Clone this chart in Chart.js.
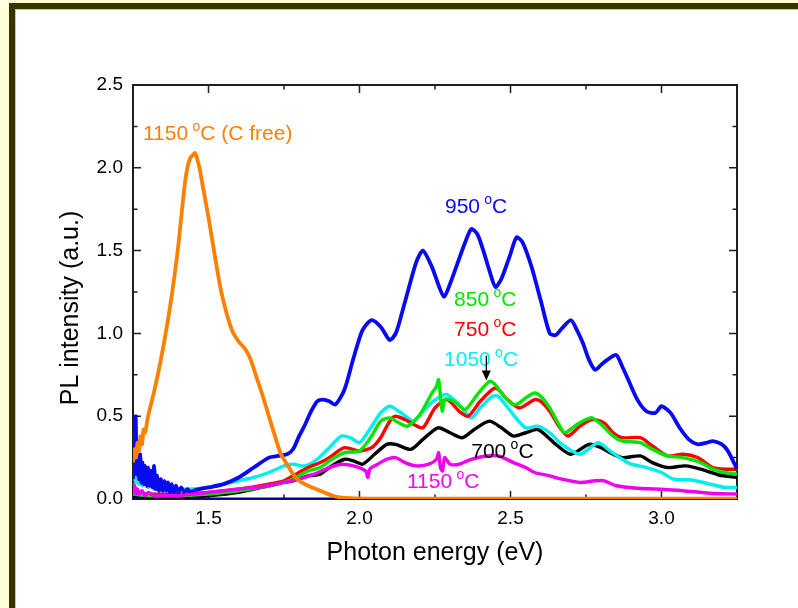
<!DOCTYPE html>
<html>
<head>
<meta charset="utf-8">
<script src="https://cdn.jsdelivr.net/npm/chart.js@4.4.1/dist/chart.umd.min.js"></script>
<style>
  html, body { margin: 0; padding: 0; }
  body { width: 798px; height: 608px; background: #ffffdc; position: relative; overflow: hidden; }
  .frame { position: absolute; left: 9px; top: 3px; width: 800px; height: 603px;
           background: #fff; border-left: 6px solid #383400; border-top: 6px solid #383400;
           border-bottom: 2px solid #cdccc2; }
  .frame::before { content: ""; position: absolute; left: 0; top: 0; right: 0; bottom: 0;
           border-left: 1px solid #c9c6a6; border-top: 1px solid #c9c6a6; }
  canvas { position: absolute; left: 0; top: 0; }
</style>
</head>
<body>
<div class="frame"></div>
<canvas id="pl" width="798" height="608"></canvas>
<script>
// PL spectra of samples annealed at different temperatures

// 950 °C
const e950 = [
  1.250,1.253,1.256,1.259,1.262,1.266,1.270,1.274,1.278,1.282,
  1.286,1.290,1.295,1.300,1.305,1.310,1.315,1.320,1.325,1.330,
  1.336,1.342,1.348,1.354,1.360,1.366,1.372,1.378,1.385,1.392,
  1.400,1.410,1.420,1.430,1.440,1.450,1.470,1.500,1.550,1.600,
  1.650,1.700,1.730,1.760,1.780,1.800,1.820,1.840,1.860,1.880,
  1.900,1.920,1.950,1.980,2.010,2.040,2.070,2.100,2.120,2.140,
  2.170,2.190,2.210,2.240,2.260,2.280,2.300,2.320,2.350,2.370,
  2.390,2.410,2.430,2.450,2.470,2.500,2.520,2.540,2.570,2.600,
  2.630,2.650,2.670,2.700,2.720,2.740,2.760,2.780,2.800,2.820,
  2.850,2.870,2.890,2.920,2.950,2.980,3.000,3.030,3.060,3.090,
  3.120,3.150,3.170,3.200,3.220,3.250
];
const pl950 = [
  0.12,0.40,0.18,0.50,0.15,0.25,0.12,0.27,0.10,0.22,
  0.09,0.20,0.08,0.19,0.08,0.17,0.07,0.20,0.06,0.14,
  0.05,0.12,0.05,0.11,0.05,0.10,0.04,0.09,0.04,0.08,
  0.04,0.07,0.04,0.06,0.04,0.05,0.06,0.07,0.09,0.13,
  0.19,0.25,0.26,0.27,0.30,0.38,0.45,0.53,0.59,0.60,
  0.59,0.57,0.66,0.85,1.02,1.08,1.04,0.96,1.00,1.12,
  1.32,1.44,1.50,1.40,1.30,1.22,1.30,1.40,1.55,1.63,
  1.60,1.50,1.38,1.28,1.33,1.48,1.58,1.55,1.40,1.20,
  1.00,0.99,1.03,1.08,1.02,0.94,0.84,0.78,0.81,0.84,
  0.87,0.80,0.72,0.60,0.53,0.52,0.56,0.52,0.43,0.36,
  0.33,0.34,0.35,0.33,0.29,0.18
];

// 850 °C
const e850 = [
  1.25,1.30,1.40,1.50,1.60,1.70,1.75,1.78,1.83,1.87,
  1.90,1.95,2.00,2.04,2.07,2.10,2.13,2.16,2.20,2.24,
  2.255,2.262,2.268,2.274,2.282,2.30,2.32,2.35,2.39,2.43,
  2.45,2.47,2.50,2.52,2.55,2.58,2.60,2.63,2.66,2.68,
  2.72,2.75,2.77,2.80,2.84,2.87,2.93,2.97,3.02,3.07,
  3.13,3.17,3.21,3.25
];
const pl850 = [
  0.03,0.02,0.02,0.03,0.05,0.08,0.10,0.12,0.17,0.19,
  0.23,0.28,0.29,0.38,0.47,0.49,0.46,0.44,0.51,0.64,
  0.68,0.72,0.62,0.53,0.60,0.60,0.58,0.54,0.63,0.71,
  0.69,0.64,0.58,0.57,0.61,0.64,0.62,0.55,0.45,0.40,
  0.45,0.48,0.49,0.45,0.38,0.35,0.34,0.30,0.26,0.25,
  0.22,0.18,0.16,0.15
];

// 750 °C
const e750 = [
  1.25,1.30,1.40,1.50,1.60,1.70,1.75,1.78,1.83,1.87,
  1.90,1.95,2.00,2.04,2.07,2.10,2.12,2.15,2.18,2.21,
  2.25,2.29,2.33,2.36,2.40,2.45,2.49,2.53,2.58,2.60,
  2.63,2.66,2.69,2.73,2.77,2.81,2.84,2.87,2.93,2.97,
  3.02,3.07,3.12,3.17,3.21,3.25
];
const pl750 = [
  0.04,0.03,0.03,0.04,0.06,0.09,0.11,0.14,0.19,0.22,
  0.25,0.31,0.29,0.31,0.37,0.47,0.50,0.48,0.45,0.43,
  0.55,0.60,0.53,0.50,0.59,0.67,0.60,0.55,0.60,0.59,
  0.53,0.44,0.38,0.44,0.48,0.46,0.40,0.37,0.37,0.32,
  0.26,0.27,0.25,0.19,0.18,0.18
];

// 1050 °C
const e1050 = [
  1.250,1.253,1.256,1.260,1.265,1.270,1.275,1.280,1.290,1.300,
  1.310,1.320,1.330,1.340,1.360,1.400,1.450,1.500,1.550,1.600,
  1.650,1.700,1.750,1.780,1.820,1.860,1.900,1.940,1.970,2.000,
  2.030,2.070,2.100,2.130,2.160,2.180,2.220,2.260,2.290,2.330,
  2.370,2.400,2.440,2.460,2.500,2.550,2.590,2.630,2.670,2.730,
  2.790,2.830,2.870,2.900,2.950,3.000,3.040,3.100,3.160,3.210,
  3.250
];
const pl1050 = [
  0.25,0.12,0.22,0.10,0.18,0.09,0.15,0.08,0.13,0.07,
  0.11,0.06,0.09,0.06,0.07,0.06,0.06,0.07,0.09,0.11,
  0.13,0.16,0.20,0.21,0.20,0.24,0.31,0.38,0.37,0.34,
  0.41,0.52,0.56,0.53,0.49,0.47,0.55,0.61,0.63,0.57,
  0.49,0.55,0.62,0.62,0.53,0.43,0.44,0.40,0.33,0.27,
  0.34,0.29,0.24,0.21,0.19,0.16,0.12,0.115,0.09,0.07,
  0.07
];

// 700 °C
const e700 = [
  1.25,1.30,1.40,1.50,1.60,1.70,1.75,1.78,1.83,1.87,
  1.90,1.95,1.98,2.01,2.05,2.09,2.12,2.17,2.21,2.26,
  2.30,2.34,2.38,2.43,2.47,2.51,2.55,2.59,2.62,2.65,
  2.70,2.76,2.80,2.83,2.87,2.93,2.97,3.02,3.08,3.14,
  3.19,3.25
];
const pl700 = [
  0.02,0.01,0.01,0.02,0.04,0.08,0.10,0.11,0.14,0.15,
  0.19,0.24,0.23,0.21,0.27,0.33,0.33,0.30,0.36,0.43,
  0.40,0.37,0.42,0.47,0.43,0.38,0.40,0.42,0.38,0.33,
  0.27,0.33,0.31,0.28,0.25,0.26,0.22,0.19,0.20,0.175,
  0.145,0.13
];

// 1150 °C
const e1150 = [
  1.250,1.253,1.256,1.260,1.265,1.270,1.280,1.290,1.300,1.320,
  1.350,1.400,1.500,1.600,1.700,1.750,1.800,1.850,1.900,1.940,
  1.980,2.020,2.028,2.034,2.060,2.090,2.120,2.150,2.190,2.230,
  2.255,2.262,2.268,2.275,2.282,2.300,2.330,2.370,2.420,2.460,
  2.510,2.550,2.580,2.630,2.670,2.730,2.780,2.810,2.850,2.920,
  2.980,3.070,3.160,3.250
];
const pl1150 = [
  0.10,0.04,0.08,0.03,0.06,0.03,0.05,0.02,0.04,0.02,
  0.02,0.02,0.04,0.06,0.08,0.10,0.12,0.15,0.19,0.21,
  0.20,0.17,0.13,0.18,0.21,0.24,0.25,0.22,0.20,0.21,
  0.24,0.28,0.19,0.17,0.25,0.21,0.21,0.24,0.26,0.26,
  0.22,0.19,0.16,0.14,0.12,0.10,0.11,0.11,0.08,0.065,
  0.06,0.05,0.035,0.03
];

// 1150 °C, carbon-free sample
const eCfree = [
  1.25,1.255,1.26,1.265,1.27,1.275,1.28,1.285,1.29,1.30,
  1.32,1.34,1.36,1.38,1.40,1.42,1.43,1.44,1.45,1.455,
  1.46,1.47,1.48,1.50,1.52,1.54,1.56,1.58,1.60,1.62,
  1.63,1.64,1.66,1.68,1.70,1.72,1.74,1.76,1.78,1.80,
  1.83,1.87,1.92,1.97,2.05,2.5,3.0,3.25
];
const plCfree = [
  0.22,0.30,0.25,0.34,0.29,0.38,0.33,0.42,0.40,0.50,
  0.65,0.82,1.02,1.25,1.53,1.88,2.00,2.06,2.08,2.09,
  2.07,2.00,1.90,1.70,1.48,1.27,1.12,1.01,0.95,0.91,
  0.88,0.84,0.73,0.62,0.50,0.38,0.27,0.21,0.15,0.11,
  0.08,0.05,0.015,0.005,0.002,0.002,0.002,0.002
];

// detector baseline
const eBase = [1.25, 3.25];
const plBase = [0, 0];

const xTickLabels = ['1.5', '2.0', '2.5', '3.0'];
const yTickLabels = ['0.0', '0.5', '1.0', '1.5', '2.0', '2.5'];
const yTitle = 'PL intensity (a.u.)';

const FONT = "'Liberation Sans', Arial, sans-serif";

const pts = (es, vs) => es.map((e, k) => ({ x: e, y: vs[k] }));
const series = (data, color, width) => ({
  data, borderColor: color, borderWidth: width, pointRadius: 0, tension: 0.25, fill: false
});

// curve annotations: temperature text, colour, anchor (energy, intensity of text baseline)
const tempLabels = [
  { lead: '1150 ', tail: 'C (C free)', color: '#ff8000', e: 1.283, v: 2.167 },
  { lead: '950 ',  tail: 'C', color: '#0a0af0', e: 2.283, v: 1.725 },
  { lead: '850 ',  tail: 'C', color: '#00e600', e: 2.313, v: 1.168 },
  { lead: '750 ',  tail: 'C', color: '#ff0000', e: 2.313, v: 0.987 },
  { lead: '1050 ', tail: 'C', color: '#00eeee', e: 2.280, v: 0.805 },
  { lead: '700 ',  tail: 'C', color: '#000000', e: 2.370, v: 0.248 },
  { lead: '1150 ', tail: 'C', color: '#ff00ff', e: 2.157, v: 0.067 }
];
const arrowMark = { e: 2.42, from: 0.865, to: 0.715 };

const frameTicks = {
  id: 'frameTicks',
  beforeDatasetsDraw(chart) {
    const { ctx, chartArea: a, scales: { x, y } } = chart;
    ctx.save();
    ctx.strokeStyle = '#1e1e1e';
    ctx.lineWidth = 2;
    ctx.strokeRect(a.left, a.top, a.right - a.left, a.bottom - a.top);
    ctx.lineWidth = 1.5;
    ctx.beginPath();
    x.ticks.forEach(t => {
      const p = x.getPixelForValue(t.value);
      const len = t.label ? 8 : 4.5;
      ctx.moveTo(p, a.bottom); ctx.lineTo(p, a.bottom - len);
      ctx.moveTo(p, a.top); ctx.lineTo(p, a.top + len);
    });
    y.ticks.forEach(t => {
      const p = y.getPixelForValue(t.value);
      const len = t.label ? 8 : 4.5;
      ctx.moveTo(a.left, p); ctx.lineTo(a.left + len, p);
      ctx.moveTo(a.right, p); ctx.lineTo(a.right - len, p);
    });
    ctx.stroke();
    // vertical axis title, sitting a little below the axis middle
    ctx.fillStyle = '#000';
    ctx.font = '25px ' + FONT;
    ctx.textAlign = 'center';
    ctx.textBaseline = 'middle';
    ctx.translate(71.5, (a.top + a.bottom) / 2 + 16);
    ctx.rotate(-Math.PI / 2);
    ctx.fillText(yTitle, 0, 0);
    ctx.restore();
  }
};

const annotations = {
  id: 'annotations',
  afterDatasetsDraw(chart) {
    const { ctx, scales: { x, y } } = chart;
    ctx.save();
    ctx.textBaseline = 'alphabetic';
    ctx.textAlign = 'left';
    tempLabels.forEach(l => {
      const px = x.getPixelForValue(l.e);
      const py = y.getPixelForValue(l.v);
      ctx.fillStyle = l.color;
      ctx.font = '21px ' + FONT;
      ctx.fillText(l.lead, px, py);
      const w1 = ctx.measureText(l.lead).width;
      ctx.font = '14px ' + FONT;
      ctx.fillText('o', px + w1 - 1.5, py - 9);
      const w2 = ctx.measureText('o').width;
      ctx.font = '21px ' + FONT;
      ctx.fillText(l.tail, px + w1 - 1.5 + w2, py);
    });
    // arrow pointing at the 850 °C maximum
    const ax = x.getPixelForValue(arrowMark.e);
    const y0 = y.getPixelForValue(arrowMark.from);
    const y1 = y.getPixelForValue(arrowMark.to);
    ctx.strokeStyle = '#000';
    ctx.fillStyle = '#000';
    ctx.lineWidth = 1.3;
    ctx.beginPath();
    ctx.moveTo(ax, y0); ctx.lineTo(ax, y1 - 8);
    ctx.stroke();
    ctx.beginPath();
    ctx.moveTo(ax, y1); ctx.lineTo(ax - 4.5, y1 - 10); ctx.lineTo(ax + 4.5, y1 - 10);
    ctx.closePath();
    ctx.fill();
    ctx.restore();
  }
};

const halfStep = v => Math.abs(v * 2 - Math.round(v * 2)) < 1e-9;

new Chart(document.getElementById('pl'), {
  type: 'line',
  data: {
    datasets: [
      series(pts(eCfree, plCfree), '#ff8000', 3.8),
      series(pts(e1150, pl1150), '#f000f0', 3.4),
      series(pts(e950, pl950), '#0a0af0', 3.8),
      series(pts(e850, pl850), '#00e600', 3.4),
      series(pts(e750, pl750), '#ff0000', 3.4),
      series(pts(e1050, pl1050), '#00eeee', 3.4),
      series(pts(e700, pl700), '#000000', 3.4),
      series(pts(eBase, plBase), '#000090', 3)
    ]
  },
  options: {
    responsive: false,
    animation: false,
    events: [],
    layout: { padding: { left: 16, top: 85, right: 61, bottom: 20 } },
    plugins: { legend: { display: false }, tooltip: { enabled: false } },
    scales: {
      x: {
        type: 'linear', min: 1.25, max: 3.25,
        grid: { display: false, drawTicks: false },
        border: { display: false },
        ticks: {
          stepSize: 0.25, padding: 8, color: '#000', autoSkip: false, maxRotation: 0,
          font: { family: FONT, size: 19 },
          callback: v => {
            const s = v.toFixed(1);
            return halfStep(v) && xTickLabels.includes(s) ? s : '';
          }
        },
        title: {
          display: true, text: 'Photon energy (eV)', color: '#000',
          font: { family: FONT, size: 25 }, padding: { top: 0, bottom: 20 }
        },
        afterFit: s => { s.height = 89; }
      },
      y: {
        type: 'linear', min: 0, max: 2.5,
        grid: { display: false, drawTicks: false },
        border: { display: false },
        ticks: {
          stepSize: 0.25, padding: 10, color: '#000', autoSkip: false,
          font: { family: FONT, size: 19 },
          callback: v => {
            const s = v.toFixed(1);
            return halfStep(v) && yTickLabels.includes(s) ? s : '';
          }
        },
        afterFit: s => { s.width = 117; }
      }
    }
  },
  plugins: [frameTicks, annotations]
});
</script>
</body>
</html>
